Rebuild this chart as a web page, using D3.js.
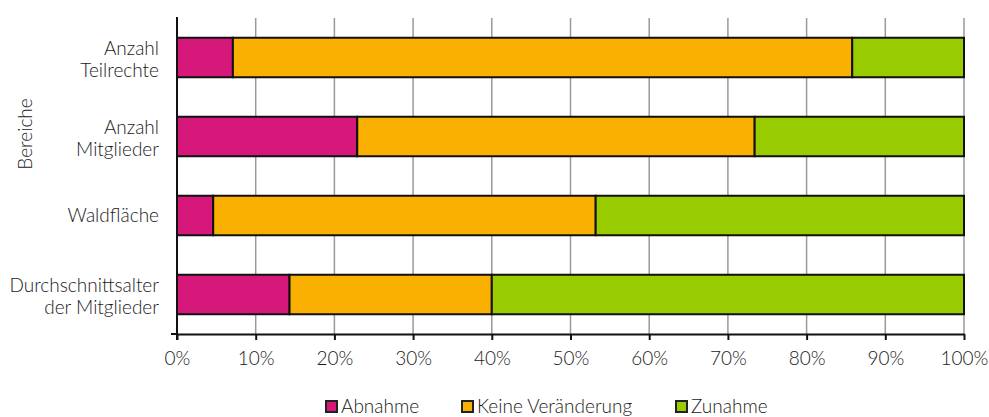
<!DOCTYPE html>
<html>
<head>
<meta charset="utf-8">
<script src="https://cdn.jsdelivr.net/npm/d3@7"></script>
<style>
  html, body { margin: 0; padding: 0; background: #fff; }
  svg text { font-family: "Lato", "Open Sans", sans-serif; font-weight: 300; fill: #1a1a1a; }
</style>
</head>
<body>
<svg id="chart" width="989" height="417"></svg>
<script>
// Kategorien (oben nach unten) und Anteile je Entwicklung in Prozent
const categories = [
  ["Anzahl", "Teilrechte"],
  ["Anzahl", "Mitglieder"],
  ["Waldfläche"],
  ["Durchschnittsalter", "der Mitglieder"]
];
const seriesNames = ["Abnahme", "Keine Veränderung", "Zunahme"];
const abnahme = [7.1, 22.9, 4.6, 14.3];
const keineVeraenderung = [78.7, 50.5, 48.6, 25.7];
const zunahme = [14.2, 26.6, 46.8, 60.0];
const colors = ["#D6187B", "#F9B000", "#99CC00"];
const xTicks = [0, 10, 20, 30, 40, 50, 60, 70, 80, 90, 100];

const FS = 19;
const svg = d3.select("#chart");
const margin = { left: 177, right: 25, top: 18, bottom: 83 };
const W = 989, H = 417;
const plotW = W - margin.left - margin.right;
const plotH = H - margin.top - margin.bottom;

const rows = categories.map((c, i) => ({
  key: c.join(" "),
  lines: c,
  Abnahme: abnahme[i],
  "Keine Veränderung": keineVeraenderung[i],
  Zunahme: zunahme[i]
}));

const x = d3.scaleLinear().domain([0, 100]).range([0, plotW]);
const y = d3.scaleBand().domain(rows.map(d => d.key)).range([0, plotH])
  .paddingInner(0.5).paddingOuter(0.25);
const color = d3.scaleOrdinal().domain(seriesNames).range(colors);

const g = svg.append("g").attr("transform", `translate(${margin.left},${margin.top})`);

// vertikale Gitterlinien
g.append("g").selectAll("line").data(xTicks.slice(1)).join("line")
  .attr("x1", d => x(d)).attr("x2", d => x(d))
  .attr("y1", 0).attr("y2", plotH)
  .attr("stroke", "#9a9a9a").attr("stroke-width", 1.5);

// gestapelte Balken
const stack = d3.stack().keys(seriesNames);
const layers = stack(rows);
g.append("g").selectAll("g").data(layers).join("g")
  .attr("fill", d => color(d.key))
  .selectAll("rect").data(d => d).join("rect")
  .attr("x", d => x(d[0]))
  .attr("y", d => y(d.data.key))
  .attr("width", d => x(d[1]) - x(d[0]))
  .attr("height", y.bandwidth())
  .attr("stroke", "#111").attr("stroke-width", 2);

// x-Achse
const xAxis = g.append("g").attr("transform", `translate(0,${plotH})`)
  .call(d3.axisBottom(x).tickValues(xTicks).tickFormat(d => d + "%").tickSize(6).tickSizeOuter(0));
xAxis.select(".domain").attr("stroke", "#111").attr("stroke-width", 2);
xAxis.selectAll(".tick line").attr("stroke", "#111").attr("stroke-width", 2);
xAxis.selectAll("text").attr("font-size", FS).attr("y", 9).attr("dy", 22)
  .style("font-family", "Lato, sans-serif").style("font-weight", 300).attr("fill", "#1a1a1a");

// y-Achse
g.append("line").attr("x1", 0).attr("x2", 0).attr("y1", -1).attr("y2", plotH + 6)
  .attr("stroke", "#111").attr("stroke-width", 2);
g.append("line").attr("x1", -6).attr("x2", 0).attr("y1", plotH).attr("y2", plotH)
  .attr("stroke", "#111").attr("stroke-width", 2);

// Kategorienbeschriftung
const labels = g.append("g").selectAll("text").data(rows).join("text")
  .attr("text-anchor", "end")
  .attr("font-size", FS)
  .attr("x", -18)
  .attr("y", d => y(d.key) + y.bandwidth() / 2);
labels.selectAll("tspan").data(d => d.lines.map((t, i) => ({ t, i, n: d.lines.length }))).join("tspan")
  .attr("x", -18)
  .attr("dy", d => d.i === 0 ? (d.n === 1 ? 6 : -3) : 22.5)
  .text(d => d.t);

// Achsentitel
svg.append("text")
  .attr("transform", "translate(32,134) rotate(-90)")
  .attr("text-anchor", "middle")
  .attr("font-size", FS)
  .text("Bereiche");

// Legende
const legendX = [326, 462, 676];
const legend = svg.append("g").selectAll("g").data(seriesNames).join("g")
  .attr("transform", (d, i) => `translate(${legendX[i]},401)`);
legend.append("rect").attr("width", 11).attr("height", 11)
  .attr("fill", d => color(d)).attr("stroke", "#222").attr("stroke-width", 2);
legend.append("text").attr("x", 15).attr("y", 11.5).attr("font-size", FS).text(d => d);
</script>
</body>
</html>
